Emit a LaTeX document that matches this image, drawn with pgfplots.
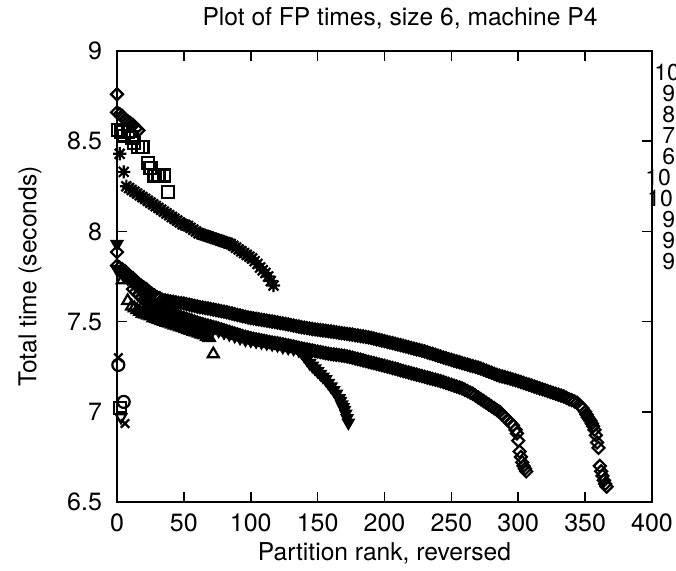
\documentclass[border=0pt]{standalone}
\usepackage{pgfplots}
\pgfplotsset{compat=1.18}
\usepackage{fontspec}
\setmainfont{TeX Gyre Heros}
\pgfdeclareplotmark{gpdiamond}{%
  \pgfpathmoveto{\pgfqpoint{0pt}{\pgfplotmarksize}}%
  \pgfpathlineto{\pgfqpoint{\pgfplotmarksize}{0pt}}%
  \pgfpathlineto{\pgfqpoint{0pt}{-\pgfplotmarksize}}%
  \pgfpathlineto{\pgfqpoint{-\pgfplotmarksize}{0pt}}%
  \pgfpathclose\pgfusepathqstroke}
\pgfdeclareplotmark{gpstar}{%
  \pgfpathmoveto{\pgfqpoint{-\pgfplotmarksize}{0pt}}\pgfpathlineto{\pgfqpoint{\pgfplotmarksize}{0pt}}%
  \pgfpathmoveto{\pgfqpoint{0pt}{-\pgfplotmarksize}}\pgfpathlineto{\pgfqpoint{0pt}{\pgfplotmarksize}}%
  \pgfpathmoveto{\pgfqpoint{-.75\pgfplotmarksize}{-.75\pgfplotmarksize}}\pgfpathlineto{\pgfqpoint{.75\pgfplotmarksize}{.75\pgfplotmarksize}}%
  \pgfpathmoveto{\pgfqpoint{-.75\pgfplotmarksize}{.75\pgfplotmarksize}}\pgfpathlineto{\pgfqpoint{.75\pgfplotmarksize}{-.75\pgfplotmarksize}}%
  \pgfusepathqstroke}
\begin{document}
\begin{tikzpicture}
\useasboundingbox (-58.5pt,-34pt) rectangle (279.5pt,251pt);
\begin{axis}[
  at={(0,0)}, anchor=south west,
  width=267.5pt, height=225.5pt, scale only axis,
  xmin=0, xmax=400, ymin=6.5, ymax=9,
  xtick={0,50,...,400}, ytick={6.5,7,7.5,8,8.5,9},
  clip=false,
  axis line style={line width=0.9pt},
  major tick length=5pt,
  tick style={line width=0.8pt, black},
  /pgf/number format/assume math mode=true,
  /pgf/number format/fixed,
  tick label style={font=\fontsize{12.5}{14}\selectfont},
  xticklabel style={yshift=-2.5pt},
  yticklabel style={xshift=-4pt},
  every axis title shift=0pt,
  title={Plot of FP times, size 6, machine P4},
  xlabel={Partition rank, reversed},
  ylabel={Total time (seconds)},
  title style={font=\fontsize{12.3}{14}\selectfont, at={(axis description cs:0.529,1.0732)}, anchor=center},
  every axis x label/.style={at={(axis description cs:0.5,-0.1131)}, anchor=center, font=\fontsize{12.3}{14}\selectfont},
  every axis y label/.style={at={(axis description cs:-0.1626,0.5)}, rotate=90, anchor=center, font=\fontsize{12.3}{14}\selectfont},
  every axis plot/.append style={black, line width=1.1pt},
]
% upper long band (diamonds)
\addplot[only marks, mark=gpdiamond, mark size=3pt] coordinates {
(0,7.81)(2,7.80)(4,7.79)(6,7.78)(8,7.765)(10,7.75)(12,7.74)(14,7.725)(16,7.71)(18,7.70)
(20,7.69)(22,7.68)(24,7.665)(26,7.655)(28,7.645)(30,7.635)(32,7.63)(34,7.62)(36,7.618)(38,7.615)
(40,7.612)(42,7.61)(44,7.607)(46,7.604)(48,7.602)(50,7.60)(52,7.597)(54,7.594)(56,7.59)(58,7.587)
(60,7.584)(62,7.58)(64,7.578)(66,7.575)(68,7.573)(70,7.57)(72,7.567)(74,7.564)(76,7.561)(78,7.558)
(80,7.555)(82,7.552)(84,7.548)(86,7.545)(88,7.541)(90,7.537)(92,7.534)(94,7.53)(96,7.527)(98,7.523)
(100,7.52)(102,7.518)(104,7.515)(106,7.513)(108,7.51)(110,7.508)(112,7.505)(114,7.503)(116,7.50)(118,7.498)
(120,7.495)(122,7.492)(124,7.49)(126,7.487)(128,7.484)(130,7.481)(132,7.478)(134,7.475)(136,7.472)(138,7.469)
(140,7.467)(142,7.464)(144,7.462)(146,7.459)(148,7.457)(150,7.455)(152,7.453)(154,7.451)(156,7.449)(158,7.447)
(160,7.445)(162,7.443)(164,7.441)(166,7.438)(168,7.436)(170,7.434)(172,7.432)(174,7.43)(176,7.428)(178,7.425)
(180,7.423)(182,7.42)(184,7.418)(186,7.415)(188,7.413)(190,7.41)(192,7.406)(194,7.402)(196,7.399)(198,7.395)
(200,7.392)(202,7.388)(204,7.384)(206,7.381)(208,7.377)(210,7.373)(212,7.37)(214,7.366)(216,7.362)(218,7.358)
(220,7.354)(222,7.35)(224,7.346)(226,7.343)(228,7.339)(230,7.335)(232,7.33)(234,7.325)(236,7.321)(238,7.316)
(240,7.311)(242,7.306)(244,7.301)(246,7.297)(248,7.292)(250,7.288)(252,7.283)(254,7.279)(256,7.275)(258,7.27)
(260,7.266)(262,7.262)(264,7.257)(266,7.253)(268,7.249)(270,7.245)(272,7.24)(274,7.234)(276,7.228)(278,7.222)
(280,7.217)(282,7.211)(284,7.205)(286,7.20)(288,7.196)(290,7.192)(292,7.188)(294,7.184)(296,7.179)(298,7.175)
(300,7.17)(302,7.165)(304,7.16)(306,7.155)(308,7.15)(310,7.145)(312,7.14)(314,7.135)(316,7.13)(318,7.125)
(320,7.12)(322,7.115)(324,7.11)(326,7.105)(328,7.10)(330,7.095)(332,7.09)(334,7.085)(336,7.078)(338,7.07)
(340,7.065)(342,7.058)(344,7.05)(346,7.035)(348,7.02)(350,7.00)
(351,6.985)(352,6.97)(353,6.96)(354,6.95)(355,6.935)(356,6.92)(357,6.90)(358,6.87)(359,6.83)(360,6.80)
(361,6.70)(362,6.67)(363,6.645)(364,6.62)(365,6.60)(366,6.585)
};
% lower long band (diamonds)
\addplot[only marks, mark=gpdiamond, mark size=3pt] coordinates {
(12,7.68)(14,7.665)(16,7.65)(18,7.635)(20,7.62)(22,7.61)(24,7.60)(26,7.59)(28,7.58)
(30,7.572)(32,7.565)(34,7.558)(36,7.553)(38,7.548)(40,7.543)(42,7.538)(44,7.533)(46,7.528)(48,7.524)
(50,7.52)(52,7.516)(54,7.511)(56,7.506)(58,7.50)(60,7.495)(62,7.49)(64,7.486)(66,7.482)(68,7.478)
(70,7.474)(72,7.47)(74,7.466)(76,7.462)(78,7.457)(80,7.452)(82,7.448)(84,7.443)(86,7.438)(88,7.434)
(90,7.429)(92,7.425)(94,7.42)(96,7.416)(98,7.412)(100,7.408)(102,7.405)(104,7.402)(106,7.399)(108,7.396)
(110,7.393)(112,7.39)(114,7.387)(116,7.384)(118,7.382)(120,7.38)(122,7.377)(124,7.374)(126,7.371)(128,7.368)
(130,7.365)(132,7.362)(134,7.358)(136,7.355)(138,7.352)(140,7.349)(142,7.346)(144,7.343)(146,7.34)(148,7.337)
(150,7.334)(152,7.331)(154,7.328)(156,7.325)(158,7.322)(160,7.32)(162,7.318)(164,7.316)(166,7.314)(168,7.312)
(170,7.31)(172,7.307)(174,7.304)(176,7.30)(178,7.296)(180,7.293)(182,7.289)(184,7.285)(186,7.281)(188,7.277)
(190,7.273)(192,7.27)(194,7.266)(196,7.262)(198,7.258)(200,7.255)(202,7.251)(204,7.247)(206,7.243)(208,7.239)
(210,7.235)(212,7.23)(214,7.226)(216,7.222)(218,7.218)(220,7.214)(222,7.21)(224,7.206)(226,7.202)(228,7.198)
(230,7.194)(232,7.19)(234,7.186)(236,7.182)(238,7.178)(240,7.174)(242,7.17)(244,7.165)(246,7.16)(248,7.155)
(250,7.15)(252,7.145)(254,7.14)(256,7.135)(258,7.13)(260,7.122)(262,7.115)(264,7.107)(266,7.10)(268,7.09)
(270,7.08)(272,7.07)(274,7.06)(276,7.05)(278,7.04)(280,7.03)(282,7.02)(284,7.01)(286,7.00)(288,6.985)
(290,6.97)(292,6.955)(294,6.94)(296,6.925)(298,6.90)
(299,6.88)(300,6.84)(301,6.78)(302,6.75)(303,6.72)(304,6.70)(305,6.685)(306,6.67)
};
% filled triangles down band
\addplot[only marks, mark=triangle*, mark options={rotate=180}, mark size=3pt] coordinates {
(0,7.79)(2,7.78)(4,7.765)(6,7.75)(8,7.74)(10,7.73)(12,7.715)(14,7.70)(16,7.685)(18,7.67)
(20,7.655)(22,7.64)(24,7.625)(26,7.61)(28,7.60)(30,7.59)(32,7.58)(34,7.57)(36,7.56)(38,7.553)
(40,7.545)(44,7.53)(48,7.52)(52,7.51)(56,7.50)(60,7.49)(64,7.48)(68,7.47)(72,7.46)(76,7.45)
(80,7.44)(84,7.43)(88,7.42)(92,7.41)(96,7.40)(100,7.395)(104,7.39)(108,7.385)(112,7.38)(116,7.375)
(120,7.37)(124,7.36)(128,7.355)(132,7.35)(136,7.34)(138,7.33)(140,7.31)(142,7.29)(144,7.27)(146,7.255)
(148,7.24)(150,7.225)(152,7.21)(154,7.195)(156,7.18)(158,7.16)(160,7.14)(162,7.12)(164,7.10)(166,7.075)
(167,7.06)(168,7.04)(169,7.025)(170,7.01)(171,6.99)(172,6.965)(173,6.94)
};
% open triangles
\addplot[only marks, mark=triangle, mark size=3.2pt] coordinates {
(4,7.73)(8,7.615)(11,7.585)(13,7.575)(15,7.565)(17,7.555)(19,7.545)(21,7.54)(23,7.535)(25,7.53)
(27,7.52)(29,7.515)(31,7.51)(33,7.505)(35,7.50)(37,7.495)(39,7.49)(41,7.485)(43,7.48)(45,7.475)
(47,7.47)(49,7.465)(51,7.46)(53,7.455)(55,7.45)(57,7.445)(59,7.44)(61,7.435)(63,7.43)(65,7.425)
(67,7.415)(69,7.41)(72,7.32)
};
% asterisks
\addplot[only marks, mark=gpstar, mark size=3.3pt] coordinates {
(2,8.43)(5,8.33)(7,8.25)(9,8.24)(11,8.23)(13,8.22)(15,8.21)(17,8.20)(19,8.19)(21,8.18)
(23,8.17)(25,8.16)(27,8.15)(29,8.14)(31,8.13)(33,8.12)(35,8.11)(37,8.10)(39,8.09)(41,8.08)
(43,8.07)(45,8.06)(47,8.05)(49,8.04)(51,8.035)(53,8.03)(55,8.02)(57,8.01)(59,8.00)(61,7.99)
(63,7.985)(65,7.98)(67,7.975)(69,7.97)(71,7.965)(73,7.96)(75,7.955)(77,7.95)(79,7.945)(81,7.94)
(83,7.935)(85,7.93)(87,7.92)(89,7.91)(91,7.90)(93,7.89)(95,7.88)(97,7.87)(99,7.86)(101,7.85)
(103,7.835)(105,7.82)(107,7.80)(109,7.785)(111,7.77)(113,7.75)(115,7.725)(117,7.70)
};
% squares
\addplot[only marks, mark=square, mark size=3pt] coordinates {
(1,8.56)(3,8.55)(5,8.53)(8,8.55)(11,8.52)(13,8.49)(16,8.47)(19,8.47)(23,8.38)(25,8.35)
(28,8.31)(31,8.31)(35,8.31)(38,8.22)(2,7.02)
};
% top diamonds
\addplot[only marks, mark=gpdiamond, mark size=3pt] coordinates {
(0,8.76)(0,8.66)(2,8.65)(4,8.64)(6,8.62)(8,8.61)(10,8.60)(12,8.59)(14,8.57)(16,8.56)(0,7.885)
};
% single filled triangle down at left edge
\addplot[only marks, mark=triangle*, mark options={rotate=180}, mark size=3pt] coordinates {(0,7.93)};
% crosses
\addplot[only marks, mark=x, mark size=3pt] coordinates {(1,7.30)(6,6.935)};
% circles
\addplot[only marks, mark=o, mark size=3pt] coordinates {(1,7.26)(5,7.055)};
% open triangle down
\addplot[only marks, mark=triangle, mark options={rotate=180}, mark size=3pt] coordinates {(3,6.97)};
\end{axis}
\begin{scope}[every node/.style={anchor=west, inner sep=0pt, font=\fontsize{11.5}{12}\selectfont}]
\node at (268.5pt,214.5pt) {10};
\node at (272.5pt,204pt) {9};
\node at (272.5pt,193.5pt) {8};
\node at (272.5pt,183pt) {7};
\node at (272.5pt,172.5pt) {6};
\node at (264pt,162pt) {10};
\node at (265pt,151.5pt) {10};
\node at (272.5pt,141pt) {9};
\node at (272.5pt,130.5pt) {9};
\node at (272.5pt,120pt) {9};
\end{scope}
\end{tikzpicture}
\end{document}
